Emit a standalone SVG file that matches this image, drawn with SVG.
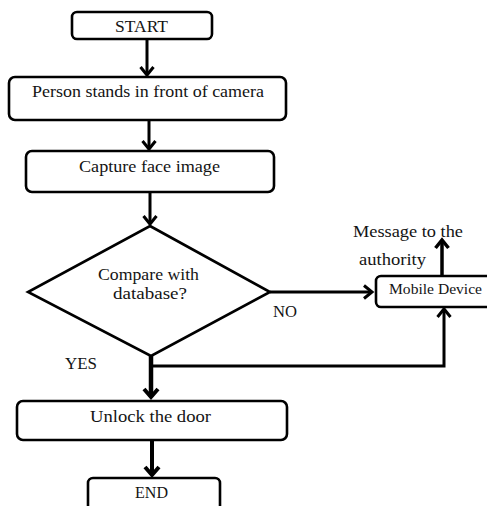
<svg xmlns="http://www.w3.org/2000/svg" width="487" height="506" viewBox="0 0 487 506">
<style>
.box{fill:#fff;stroke:#000;stroke-width:2.6}
.t{font-family:"Liberation Serif","Times New Roman",serif;font-size:17px;fill:#141414;text-anchor:middle}
.line{fill:none;stroke:#000;stroke-width:3}
.head{fill:none;stroke:#000;stroke-width:3;stroke-linecap:butt;stroke-linejoin:miter}
</style>
<rect width="487" height="506" fill="#fff"/>
<g id="start"><rect class="box" x="72" y="12" width="140" height="27" rx="5"/><text class="t" x="141.5" y="32" textLength="53" lengthAdjust="spacingAndGlyphs">START</text></g>
<g id="person"><rect class="box" x="9" y="77" width="277" height="43" rx="6"/><text class="t" x="148" y="97" textLength="232" lengthAdjust="spacingAndGlyphs">Person stands in front of camera</text></g>
<g id="capture"><rect class="box" x="26" y="151" width="248" height="41" rx="6"/><text class="t" x="149.5" y="172" textLength="141" lengthAdjust="spacingAndGlyphs">Capture face image</text></g>
<g id="compare"><polygon class="box" points="150,226 270,292 151,356 28,292"/><text class="t" x="148.5" y="280" textLength="101" lengthAdjust="spacingAndGlyphs">Compare with</text><text class="t" x="150" y="299" textLength="74" lengthAdjust="spacingAndGlyphs">database?</text></g>
<g id="mobile"><rect class="box" x="376" y="276" width="130" height="31" rx="5"/><text class="t" style="font-size:15px" x="435.5" y="294" textLength="93" lengthAdjust="spacingAndGlyphs">Mobile Device</text></g>
<g id="message"><text class="t" x="408" y="237" textLength="110" lengthAdjust="spacingAndGlyphs">Message  to the</text><text class="t" x="392.5" y="265" textLength="67" lengthAdjust="spacingAndGlyphs">authority</text></g>
<g id="unlock"><rect class="box" x="17" y="401" width="270" height="39" rx="6"/><text class="t" x="150.5" y="422" textLength="121" lengthAdjust="spacingAndGlyphs">Unlock the door</text></g>
<g id="end"><rect class="box" x="88" y="478" width="132" height="40" rx="5"/><text class="t" x="151.5" y="498" textLength="33" lengthAdjust="spacingAndGlyphs">END</text></g>
<g id="connectors">
<line class="line" x1="147" y1="39" x2="147" y2="75"/><polyline class="head" points="140.5,67 147,75 153.5,67"/>
<line class="line" x1="149" y1="120" x2="149" y2="149"/><polyline class="head" points="142.5,141 149,149 155.5,141"/>
<line class="line" x1="150" y1="192" x2="150" y2="224"/><polyline class="head" points="143.5,216 150,224 156.5,216"/>
<line class="line" x1="270" y1="292" x2="372" y2="292"/><polyline class="head" points="364,285.5 372,292 364,298.5"/>
<line class="line" style="stroke-width:3.5" x1="442" y1="276" x2="442" y2="240"/><polyline class="head" style="stroke-width:3.5" points="435.5,248 442,240 448.5,248"/>
<line class="line" style="stroke-width:4.5" x1="151" y1="356" x2="151" y2="397"/><polyline class="head" style="stroke-width:4" points="144,389 151,397 158,389"/>
<polyline class="line" points="151,366 444,366 444,309"/><polyline class="head" points="437.5,317 444,309 450.5,317"/>
<line class="line" style="stroke-width:4" x1="152" y1="440" x2="152" y2="475"/><polyline class="head" style="stroke-width:4" points="145,467 152,475 159,467"/>
</g>
<text class="t" x="285" y="317" textLength="24" lengthAdjust="spacingAndGlyphs">NO</text>
<text class="t" x="81" y="369" textLength="32" lengthAdjust="spacingAndGlyphs">YES</text>
</svg>
